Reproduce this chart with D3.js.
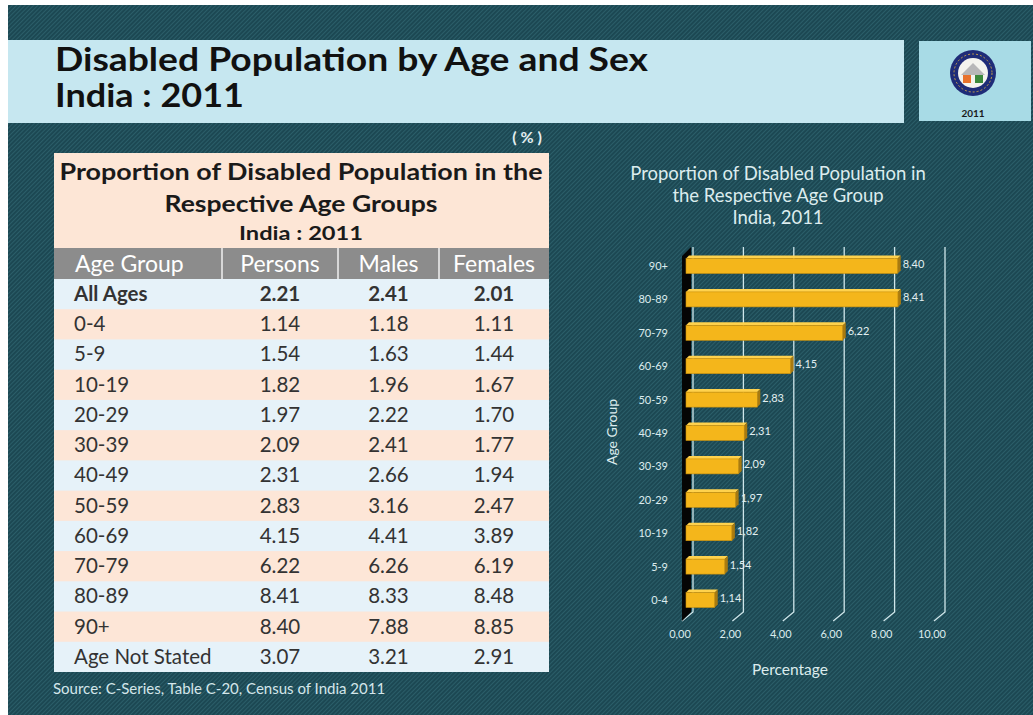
<!DOCTYPE html>
<head>
<meta charset="utf-8">
<script src="https://d3js.org/d3.v7.min.js"></script>
<style>
body { margin: 0; background: #fff; }
text { font-family: Lato, "Open Sans", sans-serif; }
</style>
</head>
<body>
<div id="my_dataviz"></div>
<script>

// table values (%)
var ageGroups = ["All Ages", "0-4", "5-9", "10-19", "20-29", "30-39", "40-49",
                 "50-59", "60-69", "70-79", "80-89", "90+", "Age Not Stated"];
var persons = [2.21, 1.14, 1.54, 1.82, 1.97, 2.09, 2.31, 2.83, 4.15, 6.22, 8.41, 8.40, 3.07];
var males   = [2.41, 1.18, 1.63, 1.96, 2.22, 2.41, 2.66, 3.16, 4.41, 6.26, 8.33, 7.88, 3.21];
var females = [2.01, 1.11, 1.44, 1.67, 1.70, 1.77, 1.94, 2.47, 3.89, 6.19, 8.48, 8.85, 2.91];
var tableColumns = ["Age Group", "Persons", "Males", "Females"];

// the bar chart shows persons, without "All Ages" and "Age Not Stated"
var chartGroups = ageGroups.slice(1, 12);
var chartValues = persons.slice(1, 12);
var xTicks = [0, 2, 4, 6, 8, 10];

var W = 1033, H = 715;

var svg = d3.select("#my_dataviz")
  .append("svg")
    .attr("width", W)
    .attr("height", H);

// hatched teal background
var pat = svg.append("defs").append("pattern")
    .attr("id", "hatch")
    .attr("width", 3).attr("height", 3)
    .attr("patternUnits", "userSpaceOnUse")
    .attr("patternTransform", "rotate(45)");
pat.append("rect").attr("width", 3).attr("height", 3).attr("fill", "#1c4853");
pat.append("line")
    .attr("x1", 0.5).attr("y1", 0).attr("x2", 0.5).attr("y2", 3)
    .attr("stroke", "#2b5e69").attr("stroke-width", 1);

svg.append("rect")
    .attr("x", 8).attr("y", 5)
    .attr("width", W - 8).attr("height", H - 5)
    .attr("fill", "url(#hatch)");

// ---- title banner ----
svg.append("rect")
    .attr("x", 8).attr("y", 40).attr("width", 896).attr("height", 83)
    .attr("fill", "#c6e7f0");
svg.append("text")
    .attr("x", 55).attr("y", 71)
    .attr("font-size", 33).attr("font-weight", "bold").attr("fill", "#111")
    .attr("textLength", 593).attr("lengthAdjust", "spacingAndGlyphs")
    .text("Disabled Population by Age and Sex");
svg.append("text")
    .attr("x", 55).attr("y", 107)
    .attr("font-size", 33).attr("font-weight", "bold").attr("fill", "#111")
    .attr("textLength", 189).attr("lengthAdjust", "spacingAndGlyphs")
    .text("India : 2011");

// logo box
svg.append("rect")
    .attr("x", 919).attr("y", 41).attr("width", 112).attr("height", 80)
    .attr("fill", "#a8dbe6");
var logo = svg.append("g").attr("transform", "translate(973,73)");
logo.append("circle").attr("r", 23).attr("fill", "#1f2c78");
logo.append("circle").attr("r", 15).attr("fill", "#f4f4ee");
logo.append("path").attr("d", "M-12,2 L0,-10 L12,2 Z").attr("fill", "#b8b8b8");
logo.append("rect").attr("x", -10).attr("y", 2).attr("width", 8).attr("height", 8).attr("fill", "#e8732c");
logo.append("rect").attr("x", 2).attr("y", 2).attr("width", 8).attr("height", 8).attr("fill", "#3c8a3c");
logo.append("circle").attr("r", 19).attr("fill", "none").attr("stroke", "#c9a24a").attr("stroke-width", 1).attr("stroke-dasharray", "2,2");
svg.append("text")
    .attr("x", 973).attr("y", 117).attr("text-anchor", "middle")
    .attr("font-size", 10).attr("font-weight", "bold").attr("fill", "#1a1a1a")
    .attr("font-family", "Liberation Sans, Arial, sans-serif")
    .text("2011");

// ---- table ----
var colEdges = [54, 222, 338, 439, 549];
var rowY = d3.scaleBand().domain(ageGroups).range([279, 672]);

svg.append("text")
    .attr("x", 527).attr("y", 143).attr("text-anchor", "middle")
    .attr("font-size", 16).attr("font-weight", "bold").attr("fill", "#e4eef0")
    .text("( % )");

svg.append("rect")
    .attr("x", 54).attr("y", 153).attr("width", 495).attr("height", 95)
    .attr("fill", "#fde6d6");
var tTitle = [
  {t: "Proportion of Disabled Population in the", y: 180, s: 22, w: 483},
  {t: "Respective Age Groups", y: 212, s: 22, w: 273},
  {t: "India : 2011", y: 240, s: 18, w: 124}
];
svg.selectAll(".ttitle")
  .data(tTitle)
  .enter()
  .append("text")
    .attr("x", 301).attr("y", function(d){ return d.y; })
    .attr("text-anchor", "middle")
    .attr("font-size", function(d){ return d.s; })
    .attr("font-weight", "bold").attr("fill", "#1a1a1a")
    .attr("textLength", function(d){ return d.w; })
    .attr("lengthAdjust", "spacingAndGlyphs")
    .text(function(d){ return d.t; });

// header row
svg.append("rect")
    .attr("x", 54).attr("y", 248).attr("width", 495).attr("height", 31)
    .attr("fill", "#8c8c8c");
svg.selectAll(".hsep")
  .data(colEdges.slice(1, 4))
  .enter()
  .append("line")
    .attr("x1", function(d){ return d; }).attr("x2", function(d){ return d; })
    .attr("y1", 248).attr("y2", 279)
    .attr("stroke", "#f0f0f0").attr("stroke-width", 1.5);
svg.selectAll(".htext")
  .data(tableColumns)
  .enter()
  .append("text")
    .attr("x", function(d, i){ return i == 0 ? 75 : (colEdges[i] + colEdges[i + 1]) / 2; })
    .attr("y", 272)
    .attr("text-anchor", function(d, i){ return i == 0 ? "start" : "middle"; })
    .attr("font-size", 23).attr("fill", "#ffffff")
    .text(function(d){ return d; });

// body rows
var rows = svg.selectAll(".row")
  .data(ageGroups)
  .enter()
  .append("g")
    .attr("transform", function(d){ return "translate(0," + rowY(d) + ")"; });
rows.append("rect")
    .attr("x", 54).attr("width", 495)
    .attr("height", function(d, i){ return i == ageGroups.length - 1 ? rowY.bandwidth() : rowY.bandwidth() + 1; })
    .attr("fill", function(d, i){ return i % 2 ? "#fde6d7" : "#e6f2f9"; });
rows.append("text")
    .attr("x", 74).attr("y", 22)
    .attr("font-size", 20.5).attr("fill", "#333")
    .attr("font-weight", function(d, i){ return i == 0 ? "bold" : "normal"; })
    .text(function(d){ return d; });
[persons, males, females].forEach(function(vals, c) {
  rows.append("text")
      .attr("x", (colEdges[c + 1] + colEdges[c + 2]) / 2)
      .attr("y", 22)
      .attr("text-anchor", "middle")
      .attr("font-size", 20.5).attr("fill", "#333")
      .attr("font-weight", function(d, i){ return i == 0 ? "bold" : "normal"; })
      .text(function(d, i){ return vals[i].toFixed(2); });
});

svg.append("text")
    .attr("x", 53).attr("y", 694)
    .attr("font-size", 15).attr("fill", "#d4e6ea")
    .text("Source: C-Series, Table C-20, Census of India 2011");

// ---- 3D bar chart ----
var comma = d3.formatLocale({decimal: ",", thousands: ".", grouping: [3], currency: ["", ""]}).format(".2f");

var x = d3.scaleLinear().domain([0, 10]).range([682, 934]);
var y = d3.scalePoint().domain(chartGroups.slice().reverse()).range([266, 600]);
var dx = 11, dy = -9;              // depth of the back wall
var gridTop = 247, gridBottom = 621;   // back top / front bottom
var barH = 15, barOff = 4, bd = 3;

var chart = svg.append("g");

// chart title
chart.selectAll(".ctitle")
  .data(["Proportion of Disabled Population in", "the Respective Age Group", "India, 2011"])
  .enter()
  .append("text")
    .attr("x", 778).attr("y", function(d, i){ return 180 + i * 22; })
    .attr("text-anchor", "middle")
    .attr("font-size", 18.5).attr("fill", "#dcecee")
    .text(function(d){ return d; });

// gridlines: up the back wall, then forward across the floor
chart.selectAll(".grid")
  .data(xTicks)
  .enter()
  .append("path")
    .attr("d", function(d){
      return "M" + (x(d) + dx) + "," + gridTop +
             "V" + (gridBottom + dy) +
             "L" + x(d) + "," + gridBottom;
    })
    .attr("fill", "none")
    .attr("stroke", "#cfe6ea").attr("stroke-width", 1.3);

// black side wall
chart.append("path")
    .attr("d", "M" + x(0) + "," + (gridTop - dy) +
               "L" + (x(0) + dx - 2) + "," + gridTop +
               "V" + (gridBottom + dy) +
               "L" + x(0) + "," + gridBottom + "Z")
    .attr("fill", "#050505");

// bars
var bars = chart.selectAll(".bar")
  .data(chartValues)
  .enter()
  .append("g")
    .attr("transform", function(d, i){ return "translate(0," + y(chartGroups[i]) + ")"; });
bars.append("path")   // top face
    .attr("d", function(d){
      var x0 = x(0) + barOff, x1 = x(d) + barOff, yt = -barH / 2;
      return "M" + x0 + "," + yt + "L" + x1 + "," + yt +
             "L" + (x1 + bd) + "," + (yt - bd) + "L" + (x0 + bd) + "," + (yt - bd) + "Z";
    })
    .attr("fill", "#ffd24d");
bars.append("path")   // right face
    .attr("d", function(d){
      var x1 = x(d) + barOff, yt = -barH / 2, yb = barH / 2;
      return "M" + x1 + "," + yt + "L" + (x1 + bd) + "," + (yt - bd) +
             "L" + (x1 + bd) + "," + (yb - bd) + "L" + x1 + "," + yb + "Z";
    })
    .attr("fill", "#a87a10");
bars.append("rect")   // front face
    .attr("x", x(0) + barOff)
    .attr("y", -barH / 2)
    .attr("width", function(d){ return x(d) - x(0); })
    .attr("height", barH)
    .attr("fill", "#f4b61b")
    .attr("stroke", "#c98f0c").attr("stroke-width", 0.6);
bars.append("text")
    .attr("x", function(d){ return x(d) + barOff + bd + 2; })
    .attr("y", 2)
    .attr("font-size", 11).attr("fill", "#e2eff1")
    .text(function(d){ return comma(d); });

// category labels
chart.selectAll(".cat")
  .data(chartGroups)
  .enter()
  .append("text")
    .attr("x", 668).attr("y", function(d){ return y(d) + 4; })
    .attr("text-anchor", "end")
    .attr("font-size", 11).attr("fill", "#dcecee")
    .text(function(d){ return d; });

// x tick labels
chart.selectAll(".xtick")
  .data(xTicks)
  .enter()
  .append("text")
    .attr("x", function(d){ return x(d) - 2; }).attr("y", 638)
    .attr("text-anchor", "middle")
    .attr("font-size", 11).attr("fill", "#dcecee")
    .text(function(d){ return comma(d); });

// axis titles
chart.append("text")
    .attr("transform", "translate(617,432) rotate(-90)")
    .attr("text-anchor", "middle")
    .attr("font-size", 14).attr("fill", "#dcecee")
    .text("Age Group");
chart.append("text")
    .attr("x", 790).attr("y", 675)
    .attr("text-anchor", "middle")
    .attr("font-size", 15.5).attr("fill", "#dcecee")
    .text("Percentage");

</script>
</body>
